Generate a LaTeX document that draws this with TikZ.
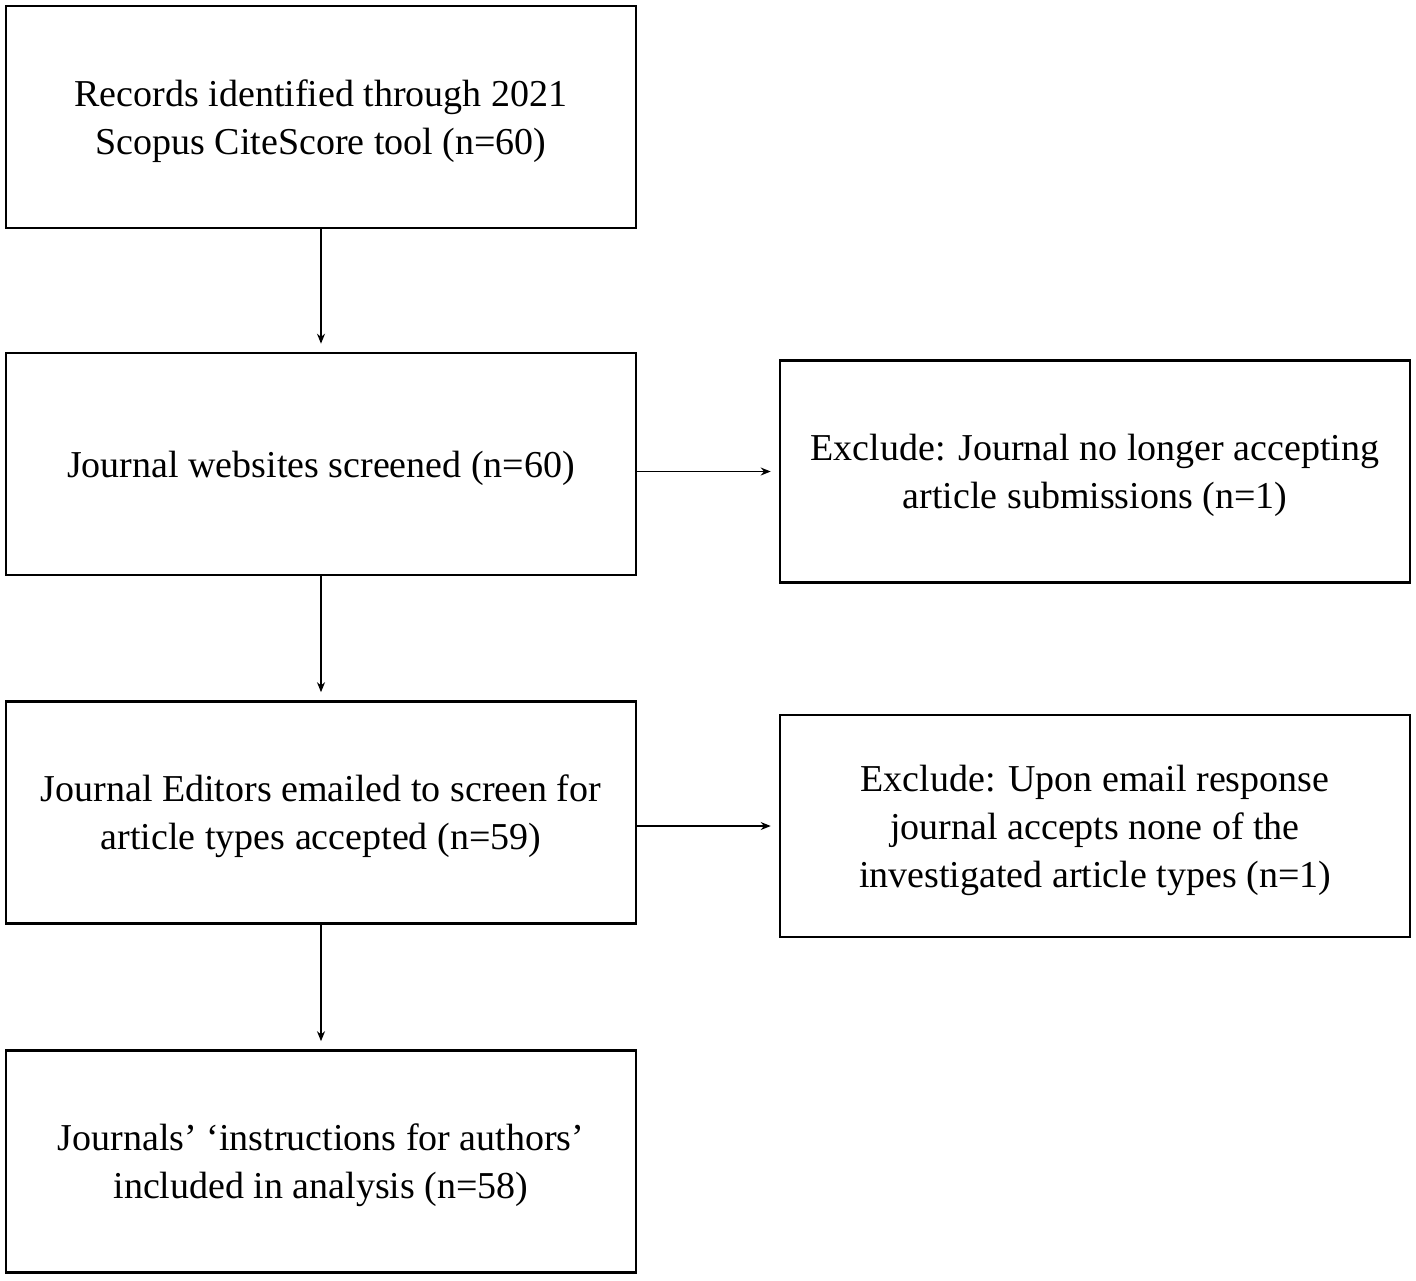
\documentclass[tikz,border=0pt]{standalone}
\usepackage{fontspec}
\setmainfont{Liberation Serif}
\usetikzlibrary{arrows.meta}
\begin{document}
\begin{tikzpicture}[x=0.5pt,y=-0.5pt,
  box/.style={draw,line width=1.3pt,minimum width=315pt,minimum height=111pt,align=center,font=\fontsize{19}{24}\selectfont,inner sep=0pt,text depth=0pt},
  arr/.style={line width=0.7pt,-{Stealth[length=5pt,width=4pt]},shorten >=4pt}]
\useasboundingbox (0,0) rectangle (1416,1280);
\node[box] (b1) at (321,117) {Records identified through 2021\\Scopus CiteScore tool (n=60)};
\node[box] (b2) at (321,464) {Journal websites screened (n=60)};
\node[box] (b3) at (321,812.5) {Journal Editors emailed to screen for\\article types accepted (n=59)};
\node[box] (b4) at (321,1161.5) {Journals’ ‘instructions for authors’\\included in analysis (n=58)};
\node[box] (e1) at (1095,471.5) {Exclude: Journal no longer accepting\\article submissions (n=1)};
\node[box] (e2) at (1095,826) {Exclude: Upon email response\\journal accepts none of the\\investigated article types (n=1)};
\draw[arr] (b1) -- (b2);
\draw[arr] (b2) -- (b3);
\draw[arr] (b3) -- (b4);
\draw[arr] (b2.east |- e1.west) -- (e1.west);
\draw[arr] (b3.east |- e2.west) -- (e2.west);
\end{tikzpicture}
\end{document}
